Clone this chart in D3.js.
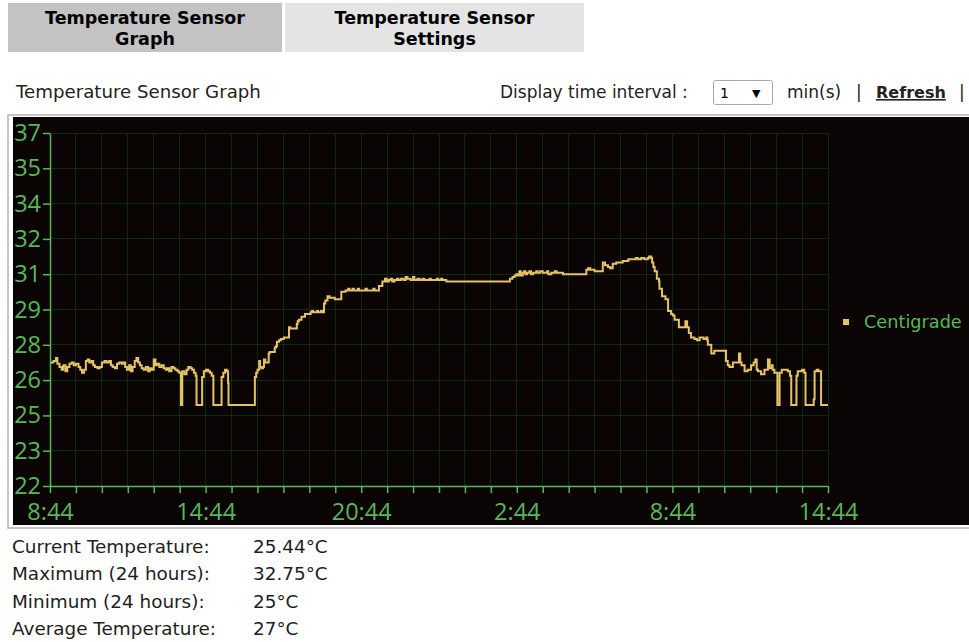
<!DOCTYPE html>
<html>
<head>
<meta charset="utf-8">
<title>Temperature Sensor Graph</title>
<script src="https://d3js.org/d3.v7.min.js"></script>
<style>
  body { margin: 0; background: #fff; }
  svg text { font-family: "DejaVu Sans", Verdana, sans-serif; }
  .tab text { font-weight: bold; font-size: 17.5px; fill: #000; }
  .head { font-size: 17px; fill: #222; }
  .stat { font-size: 18.4px; fill: #1e1e1e; }
  .axis text { font-family: "Open Sans", sans-serif; font-size: 23.5px; fill: #58b858; }
  .axis path, .axis line { stroke: #58b858; stroke-width: 1.5px; }
  .grid line { stroke: #0a2c0a; stroke-width: 1px; shape-rendering: crispEdges; }
  .temp { fill: none; stroke: #e6c266; stroke-width: 2px; }
</style>
</head>
<body>
<svg id="page" width="969" height="642"></svg>
<script>
// minutes since 8:44 and temperature in centigrade
var minutes = [2,8,14,17,22,27,31,36,40,45,50,55,60,66,70,74,79,83,87,91,96,100,104,110,115,120,126,131,137,141,145,150,155,160,166,170,174,178,183,187,191,196,200,204,208,212,217,222,227,231,235,240,244,248,253,258,263,268,272,276,281,286,290,295,299,303,306,311,316,320,325,329,333,337,339,352,356,361,366,370,374,378,397,401,405,409,412,413,474,477,480,484,486,489,493,495,498,506,508,520,523,525,530,534,541,553,556,571,573,576,582,590,603,606,609,618,620,627,630,634,637,642,647,659,674,684,690,693,700,703,712,715,730,733,748,751,761,769,775,779,784,788,792,797,803,806,812,818,823,827,834,840,843,850,855,862,866,878,881,895,898,905,908,917,1064,1070,1075,1079,1083,1086,1089,1094,1097,1100,1104,1109,1113,1118,1125,1128,1134,1140,1150,1153,1160,1168,1172,1187,1241,1245,1250,1260,1279,1284,1291,1296,1302,1310,1325,1338,1355,1360,1368,1375,1383,1386,1391,1393,1396,1399,1404,1409,1410,1416,1424,1430,1437,1441,1445,1455,1470,1474,1478,1483,1491,1497,1503,1512,1518,1521,1522,1530,1537,1564,1568,1572,1580,1594,1597,1600,1607,1614,1622,1628,1632,1635,1638,1645,1653,1661,1665,1670,1672,1676,1683,1688,1693,1707,1712,1715,1727,1730,1740,1745,1748,1767,1769,1774,1778,1784,1800];
var temps = [27.25,27.31,27.44,27.19,27.06,26.94,27.13,26.88,27.06,27.19,27.25,27.13,27.19,27.06,26.94,26.81,26.94,27.31,27.38,27.25,27.31,27.13,27.06,27.0,27.06,27.25,27.31,27.25,27.31,27.13,27.06,27.0,27.19,27.25,27.19,27.25,27.06,26.94,27.13,26.88,27.06,27.31,27.44,27.25,27.13,27.0,26.94,27.06,26.88,27.0,26.94,27.38,27.13,27.19,27.06,27.13,27.0,26.94,27.0,26.88,27.06,27.0,26.94,26.88,26.81,25.44,26.88,26.75,26.94,27.06,27.0,26.94,26.81,26.69,25.44,26.63,26.88,26.94,26.88,26.81,26.69,25.44,26.63,26.81,26.94,26.88,26.38,25.44,26.63,26.81,26.94,27.31,27.06,27.0,27.06,27.38,27.25,27.63,27.69,27.88,27.94,28.13,28.19,28.25,28.31,28.75,28.69,28.88,29.0,29.06,29.19,29.31,29.38,29.44,29.38,29.44,29.38,29.44,29.38,29.75,29.88,30.06,30.0,29.94,30.25,30.31,30.38,30.31,30.38,30.31,30.38,30.31,30.38,30.31,30.38,30.31,30.5,30.69,30.81,30.69,30.75,30.81,30.69,30.75,30.81,30.75,30.81,30.75,30.88,30.81,30.75,30.88,30.75,30.81,30.75,30.81,30.75,30.81,30.75,30.81,30.75,30.81,30.75,30.69,30.81,30.88,30.94,31.0,30.94,31.13,30.94,31.06,31.13,31.0,31.06,31.13,31.0,31.06,31.13,31.06,31.13,31.06,31.13,31.0,31.06,31.13,31.06,31.0,31.19,31.25,31.19,31.13,31.5,31.38,31.31,31.25,31.44,31.5,31.56,31.63,31.69,31.63,31.69,31.63,31.69,31.75,31.69,31.5,31.31,31.13,30.81,30.69,30.38,30.06,29.94,29.44,29.31,29.25,29.06,28.75,29.0,28.75,28.5,28.31,28.25,28.19,28.31,28.25,28.31,28.19,28.0,27.63,27.75,27.31,27.13,27.06,27.25,27.63,27.25,27.13,26.88,26.94,27.13,27.25,27.38,26.94,26.88,26.75,26.94,27.38,27.0,27.13,26.94,26.81,25.44,26.81,26.94,26.88,26.69,25.44,26.69,26.88,26.94,26.81,25.44,25.69,26.88,26.94,26.88,25.44,25.44];

var yTicks = [22, 23.5, 25, 26.5, 28, 29.5, 31, 32.5, 34, 35.5, 37];
var yTickLabels = ["22", "23", "25", "26", "28", "29", "31", "32", "34", "35", "37"];
var xTicks = [0, 360, 720, 1080, 1440, 1800];
var xTickLabels = ["8:44", "14:44", "20:44", "2:44", "8:44", "14:44"];
var seriesName = "Centigrade";

var tabLines = [["Temperature Sensor", "Graph"], ["Temperature Sensor", "Settings"]];
var statNames = ["Current Temperature:", "Maximum (24 hours):", "Minimum (24 hours):", "Average Temperature:"];
var statValues = ["25.44°C", "32.75°C", "25°C", "27°C"];

var svg = d3.select("#page");

// tabs
var tabs = [{x: 8, w: 274, fill: "#c3c3c3"}, {x: 285, w: 299, fill: "#e4e4e4"}];
tabs.forEach(function(t, i) {
    var g = svg.append("g").attr("class", "tab");
    g.append("rect").attr("x", t.x).attr("y", 3).attr("width", t.w).attr("height", 49).attr("fill", t.fill);
    tabLines[i].forEach(function(line, j) {
        g.append("text").attr("x", t.x + t.w / 2).attr("y", 24 + j * 21)
            .attr("text-anchor", "middle").text(line);
    });
});

// header row
svg.append("text").attr("class", "head").attr("x", 16).attr("y", 98).style("font-size", "18.2px").text("Temperature Sensor Graph");
svg.append("text").attr("class", "head").attr("x", 500).attr("y", 98).text("Display time interval :");
svg.append("rect").attr("x", 713.5).attr("y", 80.5).attr("width", 59).attr("height", 24).attr("rx", 2)
    .attr("fill", "#fff").attr("stroke", "#a9a9a9");
svg.append("text").attr("x", 720).attr("y", 98).style("font-size", "14px").attr("fill", "#000").text("1");
svg.append("text").attr("x", 752).attr("y", 97).style("font-size", "11px").attr("fill", "#000").text("▼");
svg.append("text").attr("class", "head").attr("x", 787).attr("y", 98).text("min(s)");
svg.append("text").attr("class", "head").attr("x", 856).attr("y", 98).text("|");
svg.append("text").attr("class", "head").attr("x", 876).attr("y", 98).style("font-size", "16px")
    .style("font-weight", "bold").style("text-decoration", "underline").attr("fill", "#000").text("Refresh");
svg.append("text").attr("class", "head").attr("x", 959).attr("y", 98).text("|");

// chart frame
svg.append("rect").attr("x", 8).attr("y", 115).attr("width", 966).attr("height", 413)
    .attr("fill", "#fff").attr("stroke", "#b4b4b4").attr("stroke-width", 1.5);
svg.append("rect").attr("x", 13).attr("y", 117).attr("width", 960).attr("height", 408).attr("fill", "#0a0404");

var x = d3.scaleLinear().domain([0, 1800]).range([50, 828]);
var y = d3.scaleLinear().domain([22, 37]).range([486, 133]);

// grid
var grid = svg.append("g").attr("class", "grid");
grid.selectAll("line.v").data(d3.range(60, 1801, 60)).join("line").attr("class", "v")
    .attr("x1", d => x(d)).attr("x2", d => x(d)).attr("y1", y(37)).attr("y2", y(22));
grid.selectAll("line.h").data(yTicks.slice(1)).join("line").attr("class", "h")
    .attr("x1", x(0)).attr("x2", x(1800)).attr("y1", d => y(d)).attr("y2", d => y(d));

// axes
var yAxis = d3.axisLeft(y).tickValues(yTicks).tickSize(7).tickSizeOuter(0).tickPadding(2)
    .tickFormat((d, i) => yTickLabels[i]);
svg.append("g").attr("class", "axis").attr("transform", "translate(" + x(0) + ",0)").call(yAxis);

var xAxis = d3.axisBottom(x).tickValues(d3.range(0, 1801, 60)).tickSize(7).tickSizeOuter(0).tickPadding(10)
    .tickFormat(d => d % 360 === 0 ? xTickLabels[d / 360] : "");
svg.append("g").attr("class", "axis").attr("transform", "translate(0," + y(22) + ")").call(xAxis);

// temperature line
var points = minutes.map((m, i) => [m, temps[i]]);
var line = d3.line().x(d => x(d[0])).y(d => y(d[1])).curve(d3.curveStepAfter);
svg.append("path").attr("class", "temp").attr("d", line(points));

// legend
svg.append("rect").attr("x", 843).attr("y", 319).attr("width", 6).attr("height", 6).attr("fill", "#e6c266");
svg.append("text").attr("x", 864).attr("y", 328).style("font-size", "17.7px").attr("fill", "#58b858").text(seriesName);

// stats
statNames.forEach(function(s, i) {
    svg.append("text").attr("class", "stat").attr("x", 12).attr("y", 553 + i * 27.3).text(s);
    svg.append("text").attr("class", "stat").attr("x", 253).attr("y", 553 + i * 27.3).text(statValues[i]);
});
</script>
</body>
</html>
